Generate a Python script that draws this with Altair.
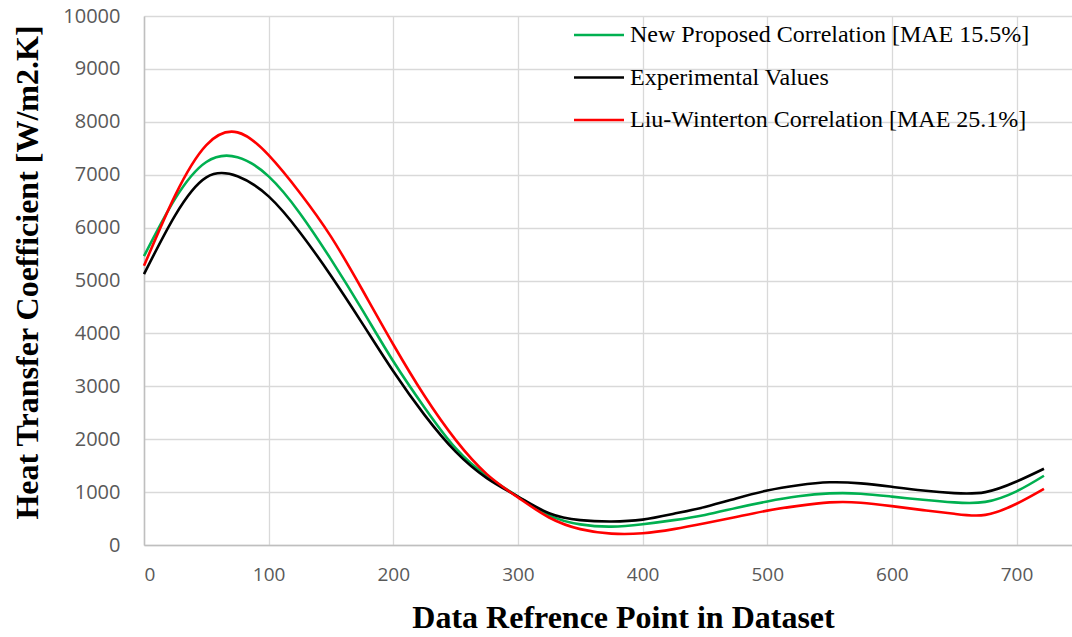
import altair as alt
import pandas as pd

# Series names (legend order)
series_names = [
    "New Proposed Correlation [MAE 15.5%]",
    "Experimental Values",
    "Liu-Winterton Correlation [MAE 25.1%]",
]
series_colors = ["#00B050", "#000000", "#FF0000"]

# Data reference points (x) and values
x_points = [0, 25, 50, 75, 100, 125, 150, 175, 200, 225, 250, 275, 300, 325, 350, 375,
            400, 425, 450, 475, 500, 525, 550, 575, 600, 625, 650, 675, 700, 722]

green_y = [5460, 6547, 7240, 7330, 6968, 6273, 5400, 4450, 3473, 2600, 1830, 1305, 915, 560, 390, 348,
           393, 470, 569, 700, 822, 920, 975, 970, 915, 855, 805, 815, 1015, 1309]

black_y = [5120, 6232, 6950, 6970, 6590, 5913, 5090, 4195, 3284, 2460, 1765, 1265, 915, 600, 470, 445,
           480, 590, 720, 880, 1030, 1130, 1185, 1165, 1100, 1030, 980, 1000, 1200, 1442]

red_y = [5277, 6610, 7560, 7800, 7370, 6660, 5830, 4830, 3790, 2820, 1987, 1340, 900, 520, 300, 215,
         222, 300, 410, 530, 650, 740, 805, 800, 735, 660, 590, 570, 780, 1062]

x_ticks = [0, 100, 200, 300, 400, 500, 600, 700]
y_ticks = [0, 1000, 2000, 3000, 4000, 5000, 6000, 7000, 8000, 9000, 10000]

rows = []
for name, ys in zip(series_names, [green_y, black_y, red_y]):
    for xv, yv in zip(x_points, ys):
        rows.append({"x": xv, "y": yv, "series": name})
df = pd.DataFrame(rows)

chart = (
    alt.Chart(df)
    .mark_line(interpolate="natural", strokeWidth=2.6)
    .encode(
        x=alt.X(
            "x:Q",
            scale=alt.Scale(domain=[0, 744.5], nice=False),
            axis=alt.Axis(
                title="Data Refrence Point in Dataset",
                values=x_ticks,
                format="d",
                grid=True,
                gridColor="#d9d9d9",
                gridWidth=1.3,
                domainColor="#bfbfbf",
                domainWidth=1.5,
                ticks=False,
                labelFont="Open Sans",
                labelFontSize=19,
                labelColor="#595959",
                labelPadding=20,
                titleFont="Liberation Serif",
                titleFontWeight="bold",
                titleFontSize=32,
                titleColor="#000000",
                titleX=479,
                titleY=72,
                titleBaseline="middle",
                titleAlign="center",
            ),
        ),
        y=alt.Y(
            "y:Q",
            scale=alt.Scale(domain=[0, 10000], nice=False),
            axis=alt.Axis(
                title="Heat Transfer Coefficient [W/m2.K]",
                values=y_ticks,
                format="d",
                grid=True,
                gridColor="#d9d9d9",
                gridWidth=1.3,
                domainColor="#bfbfbf",
                domainWidth=1.5,
                ticks=False,
                labelFont="Open Sans",
                labelFontSize=20,
                labelColor="#595959",
                labelPadding=24,
                titleFont="Liberation Serif",
                titleFontWeight="bold",
                titleFontSize=32,
                titleColor="#000000",
                titleAngle=-90,
                titleX=-117,
                titleY=256,
                titleBaseline="middle",
                titleAlign="center",
            ),
        ),
        color=alt.Color(
            "series:N",
            scale=alt.Scale(domain=series_names, range=series_colors),
            legend=alt.Legend(
                title=None,
                orient="none",
                legendX=443,
                legendY=7,
                symbolType="M-2.5,0H2.5",
                symbolSize=400,
                symbolStrokeWidth=2.6,
                labelFont="Liberation Serif",
                labelFontSize=24,
                labelColor="#000000",
                labelOffset=19,
                labelLimit=0,
                rowPadding=18.5,
                padding=0,
            ),
        ),
        order=alt.Order("x:Q"),
    )
    .properties(
        width=928,
        height=529,
        padding={"left": 144, "top": 16, "right": 0, "bottom": 92},
        autosize=alt.AutoSizeParams(type="none"),
    )
    .configure_view(stroke=None)
)

chart.save("out.html", embed_options={"renderer": "svg", "actions": False})
